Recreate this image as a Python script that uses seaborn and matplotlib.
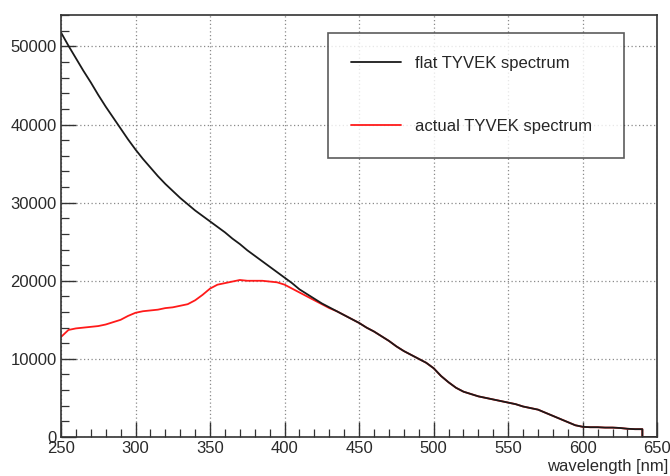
import numpy as np
import pandas as pd
import matplotlib
matplotlib.use("Agg")
import matplotlib.pyplot as plt
import seaborn as sns
from matplotlib.ticker import MultipleLocator

# Wavelength grid (nm) and the two simulated spectra
wavelength = [250, 255, 260, 265, 270, 275, 280, 285, 290, 295,
              300, 305, 310, 315, 320, 325, 330, 335, 340, 345,
              350, 355, 360, 365, 370, 375, 380, 385, 390, 395,
              400, 405, 410, 415, 420, 425, 430, 435, 440, 445,
              450, 455, 460, 465, 470, 475, 480, 485, 490, 495,
              500, 505, 510, 515, 520, 525, 530, 535, 540, 545,
              550, 555, 560, 565, 570, 575, 580, 585, 590, 595,
              600, 605, 610, 615, 620, 625, 630, 635, 640, 640, 650]

flat_tyvek = [51800, 50100, 48500, 46900, 45400, 43800, 42300, 40900, 39500, 38100,
              36800, 35600, 34500, 33400, 32400, 31500, 30600, 29800, 29000, 28300,
              27600, 26900, 26200, 25400, 24700, 23900, 23200, 22500, 21800, 21100,
              20400, 19700, 18900, 18300, 17700, 17100, 16600, 16100, 15600, 15100,
              14600, 14000, 13500, 12900, 12300, 11600, 11000, 10500, 10000, 9500,
              8800, 7800, 7000, 6300, 5800, 5500, 5200, 5000, 4800, 4600,
              4400, 4200, 3900, 3700, 3500, 3100, 2700, 2300, 1900, 1500,
              1300, 1250, 1250, 1200, 1200, 1150, 1050, 1000, 1000, 0, 0]

actual_tyvek = [12800, 13700, 13900, 14000, 14100, 14200, 14400, 14700, 15000, 15500,
                15900, 16100, 16200, 16300, 16500, 16600, 16800, 17000, 17500, 18200,
                19000, 19500, 19700, 19900, 20100, 20000, 20000, 20000, 19900, 19800,
                19500, 19000, 18500, 18000, 17500, 17000, 16500, 16100, 15600, 15100,
                14600, 14000, 13500, 12900, 12300, 11600, 11000, 10500, 10000, 9500,
                8800, 7800, 7000, 6300, 5800, 5500, 5200, 5000, 4800, 4600,
                4400, 4200, 3900, 3700, 3500, 3100, 2700, 2300, 1900, 1500,
                1300, 1250, 1250, 1200, 1200, 1150, 1050, 1000, 1000, 0, 0]

series_labels = ["flat TYVEK spectrum", "actual TYVEK spectrum"]

df = pd.DataFrame({
    "wavelength": wavelength * 2,
    "counts": flat_tyvek + actual_tyvek,
    "spectrum": [series_labels[0]] * len(wavelength) + [series_labels[1]] * len(wavelength),
})

sns.set_theme(style="white")
plt.rcParams["font.family"] = ["Liberation Sans", "DejaVu Sans"]

fig = plt.figure(figsize=(6.7, 4.76), dpi=100)
ax = fig.add_axes([0.091, 0.082, 0.890, 0.886])

sns.lineplot(data=df, x="wavelength", y="counts", hue="spectrum",
             palette={series_labels[0]: "#1a1a1a", series_labels[1]: "#ff1a1a"},
             hue_order=series_labels[::-1], estimator=None, sort=False,
             linewidth=1.3, ax=ax)

ax.set_xlim(250, 650)
ax.set_ylim(0, 54000)
ax.xaxis.set_major_locator(MultipleLocator(50))
ax.xaxis.set_minor_locator(MultipleLocator(10))
ax.yaxis.set_major_locator(MultipleLocator(10000))
ax.yaxis.set_minor_locator(MultipleLocator(2000))

ax.grid(True, which="major", color="#8a8a8a", linestyle=(0, (1, 2)), linewidth=0.9)
ax.tick_params(which="both", direction="in", colors="#333333", labelcolor="#2a2a2a",
               labelsize=12, bottom=True, left=True, top=False, right=False)
ax.tick_params(which="major", length=11, width=1)
ax.tick_params(which="minor", length=6, width=0.9)
ax.tick_params(axis="x", pad=3)
ax.tick_params(axis="y", pad=3)
for s in ax.spines.values():
    s.set_color("#333333")
    s.set_linewidth(1.2)

ax.set_xlabel("")
ax.set_ylabel("")
ax.text(1.018, -0.069, "wavelength [nm]", transform=ax.transAxes,
        ha="right", va="center", fontsize=12, color="#2a2a2a")

handles, labels = ax.get_legend_handles_labels()
order = [labels.index(l) for l in series_labels]
leg = ax.legend([handles[i] for i in order], [labels[i] for i in order],
                loc="center", bbox_to_anchor=(0.448, 0.659, 0.497, 0.303),
                mode="expand", fontsize=12, frameon=True, fancybox=False,
                edgecolor="#333333", handlelength=3.0, handletextpad=0.8,
                labelspacing=2.9, borderpad=1.4, borderaxespad=0)
leg.get_frame().set_linewidth(1.2)
for line in leg.get_lines():
    line.set_linewidth(1.3)

fig.savefig("out.png", dpi=100, facecolor="white")
